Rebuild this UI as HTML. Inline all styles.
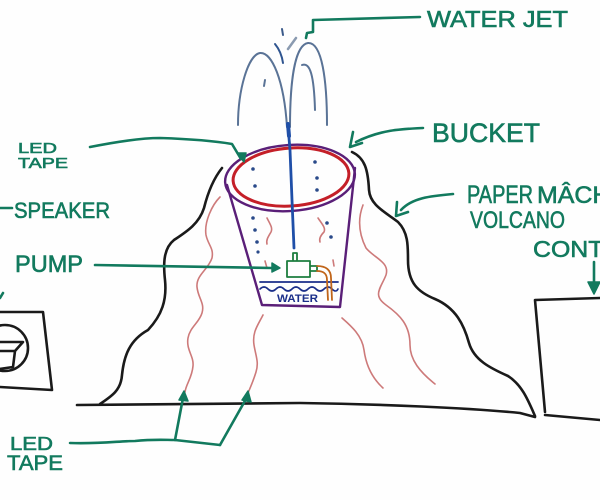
<!DOCTYPE html>
<html><head><meta charset="utf-8"><style>
html,body{margin:0;padding:0;background:#fff;}
svg{display:block;}
text{font-family:"Liberation Sans",sans-serif;}
.g{fill:#127a5e;stroke:#127a5e;stroke-width:0.6;}
</style></head><body>
<svg width="600" height="500" viewBox="0 0 600 500" xmlns="http://www.w3.org/2000/svg">
<rect width="600" height="500" fill="#fefefe"/>

<!-- red squiggles (LED tape) -->
<g fill="none" stroke="#c25a5a" stroke-width="1.6" stroke-linecap="round" opacity="0.8">
<path d="M220,197 C212,205 204,222 206,235 C208,245 214,248 212,258 C208,270 196,275 197,287 C198,298 205,303 202,313 C199,323 190,327 188,338 C186,350 194,356 193,366 C192,378 186,384 185,392"/>
<path d="M263,315 C258,325 252,332 254,345 C256,357 259,362 256,372 C253,382 250,388 248,393"/>
<path d="M267,218 C270,224 273,228 271,232 C268,237 266,240 267,244"/>
<path d="M318,218 C322,224 326,228 324,232 C320,236 319,239 320,242"/>
<path d="M363,205 C358,218 358,232 366,248 C374,258 390,262 386,275 C381,288 372,295 386,305 C400,315 410,325 410,345 C410,360 420,372 435,384"/>
<path d="M342,318 C350,325 362,335 364,350 C366,365 372,378 383,388"/>
<path d="M265,261 L267,268"/>
<path d="M333,260 L334,266"/>
</g>

<!-- volcano outline -->
<g fill="none" stroke="#1a1a1a" stroke-width="2.6" stroke-linecap="round" stroke-linejoin="round">
<path d="M222,168 C214,178 208,192 204,208 C199,224 186,232 174,240 C164,248 163,262 165,280 C167,300 162,315 148,330 C130,340 124,355 122,375 C121,390 112,396 100,404"/>
<path d="M77,405 L300,403 C380,404 470,408 520,413 L535,417"/>
<path d="M352,152 C365,158 368,170 369,190 C370,205 385,212 398,222 C408,232 408,245 408,260 C408,283 418,292 435,299 C456,308 464,325 469,343 C474,360 490,368 508,376 C522,385 528,400 535,416"/>
<path d="M545,415 L600,420"/>
<path d="M545,412 L535,300 L600,298"/>
<!-- speaker box -->
<path d="M0,312 L43,312 L52,390 L0,387"/>
<circle cx="5" cy="348" r="23"/>
<path d="M0,342 L23,342 L15,351 L0,351 M15,351 L13,367 L0,369"/>
</g>

<!-- fountain arches -->
<g fill="none" stroke="#5a7396" stroke-width="2" stroke-linecap="round">
<path d="M238,125 C238,90 248,55 260,53 C272,52 284,80 287,127"/>
<path d="M290,127 C290,80 295,45 308,43 C322,42 327,80 327,125"/>
<path d="M302,65 C310,62 314,75 315,110"/>
<path d="M265,80 L264,86"/>
<path d="M282,29 L283,35" stroke="#3a5a8a"/>
<path d="M275,44 C280,50 282,56 283,63" stroke="#2f5590"/>
<path d="M288,49 L296,38" stroke="#8a9ab0" stroke-width="2.5"/>
</g>

<!-- bucket -->
<g fill="none" stroke-linecap="round" stroke-linejoin="round">
<path d="M227,185 L262,305 L340,307 L355,168" stroke="#5a1f78" stroke-width="2.4"/>
<ellipse cx="290" cy="178" rx="65" ry="33" transform="rotate(-4 290 178)" stroke="#5a1f78" stroke-width="2.4"/>
<ellipse cx="291" cy="177" rx="58" ry="29" transform="rotate(-4 291 177)" stroke="#c41f28" stroke-width="3"/>
<!-- water jet -->
<path d="M288,126 L290,150 L292,200 L294,248" stroke="#1f4fa8" stroke-width="2.8"/>
<path d="M288,124 L289,136" stroke="#1f4fa8" stroke-width="4"/>
<!-- water lines -->
<path d="M260,282 L338,282" stroke="#1b2f8a" stroke-width="1.8"/>
<path d="M260,289 q4,-4 8,0 t8,0 t8,0 t8,0 t8,0 t8,0 t8,0 t8,0 t8,0 t6,0" stroke="#1b2f8a" stroke-width="1.6"/>
<!-- pump -->
<path d="M287,261 L310,261 L310,277 L287,277 Z M293,260 L293,253 L297,253 L297,260 M310,266 L317,266 L317,271 L310,271" stroke="#1d7d3e" stroke-width="1.8"/>
<path d="M317,266 C326,266 331,270 331,278 L332,300 M317,271 C324,271 327,274 327,280 L328,300" stroke="#c0651a" stroke-width="1.8"/>
</g>
<text x="277" y="302" font-size="11" font-weight="bold" fill="#1b2f8a" textLength="41" lengthAdjust="spacingAndGlyphs">WATER</text>

<!-- dots -->
<g fill="#2a4a8a">
<circle cx="253" cy="169" r="1.8"/><circle cx="255" cy="186" r="1.8"/>
<circle cx="315" cy="162" r="1.8"/><circle cx="317" cy="178" r="1.8"/><circle cx="317" cy="190" r="1.8"/>
<circle cx="253" cy="218" r="1.8"/><circle cx="255" cy="230" r="1.8"/><circle cx="257" cy="242" r="1.8"/><circle cx="258" cy="252" r="1.6"/>
<circle cx="327" cy="223" r="1.8"/><circle cx="331" cy="237" r="1.8"/>
</g>

<!-- green leaders -->
<g fill="none" stroke="#127a5e" stroke-width="2.6" stroke-linecap="round" stroke-linejoin="round">
<path d="M420,17 L313,20 L313,32 L307,33 L306,38"/>
<path d="M423,128 C400,129 380,130 356,142"/>
<path d="M353,132 L350,147 L362,143"/>
<path d="M453,194 C430,196 412,198 401,210"/>
<path d="M397,202 L396,216 L408,212"/>
<path d="M594,262 L594,292"/>
<path d="M90,147 C110,143 140,138 160,138 C190,139 215,141 232,144 L241,159"/>
<path d="M95,265 L272,268"/>
<path d="M70,443 C100,444 120,441 135,441 C155,439 165,440 175,440 L220,445"/>
<path d="M175,440 L183,398"/>
<path d="M220,445 L246,399"/>
<path d="M0,208 L12,208"/>
<path d="M0,298 L3,293"/>
</g>
<g fill="#127a5e" stroke="#127a5e" stroke-width="1.5" stroke-linejoin="round">
<path d="M588,282 L600,282 L594,294 Z"/>
<path d="M237,153 L244,162 L246,153 Z"/>
<path d="M272,263 L280,268 L272,272 Z"/>
<path d="M179,400 L184,391 L188,401 Z"/>
<path d="M242,400 L248,391 L251,402 Z"/>
</g>

<!-- labels -->
<text class="g" x="427" y="27" font-size="23" textLength="141" lengthAdjust="spacingAndGlyphs">WATER JET</text>
<text class="g" x="432" y="142" font-size="27" textLength="108" lengthAdjust="spacingAndGlyphs">BUCKET</text>
<text class="g" x="467" y="203" font-size="25" textLength="66" lengthAdjust="spacingAndGlyphs">PAPER</text>
<text class="g" x="537" y="203" font-size="24" textLength="90" lengthAdjust="spacingAndGlyphs">MÂCHÉ</text>
<text class="g" x="470" y="228" font-size="24" textLength="95" lengthAdjust="spacingAndGlyphs">VOLCANO</text>
<text class="g" x="533" y="257" font-size="23" textLength="170" lengthAdjust="spacingAndGlyphs">CONTROLLER</text>
<text class="g" x="18" y="153" font-size="15" textLength="39" lengthAdjust="spacingAndGlyphs">LED</text>
<text class="g" x="18" y="168" font-size="15" textLength="50" lengthAdjust="spacingAndGlyphs">TAPE</text>
<text class="g" x="14" y="218" font-size="22" textLength="96" lengthAdjust="spacingAndGlyphs">SPEAKER</text>
<text class="g" x="15" y="272" font-size="24" textLength="68" lengthAdjust="spacingAndGlyphs">PUMP</text>
<text class="g" x="10" y="450" font-size="18" textLength="43" lengthAdjust="spacingAndGlyphs">LED</text>
<text class="g" x="7" y="470" font-size="21" textLength="56" lengthAdjust="spacingAndGlyphs">TAPE</text>
</svg>
</body></html>
